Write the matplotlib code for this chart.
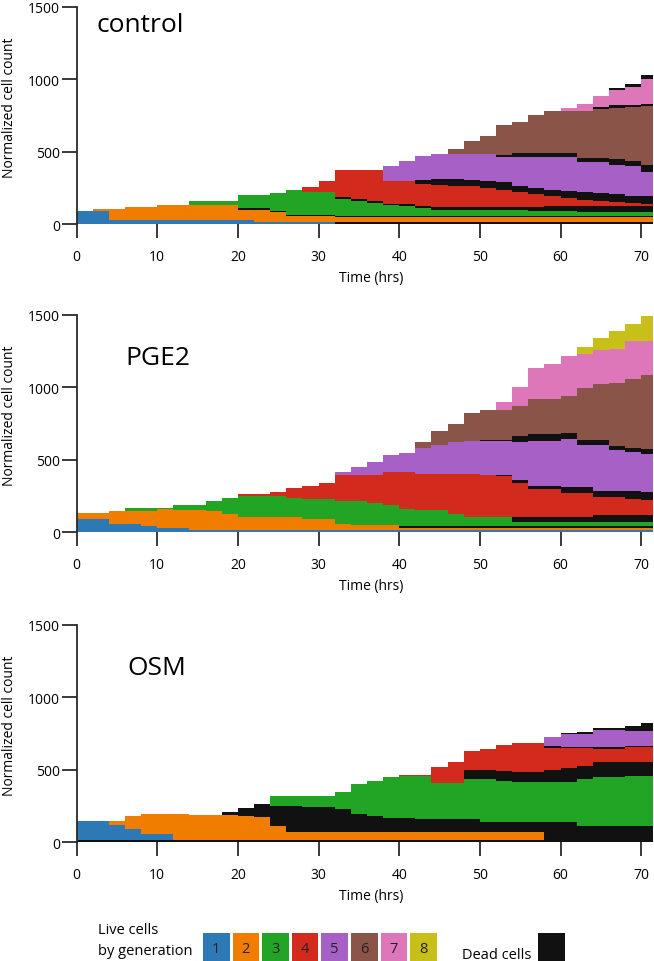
import numpy as np
import matplotlib.pyplot as plt
import matplotlib.patches as patches

plt.rcParams['font.family'] = ['Open Sans', 'DejaVu Sans']

# start of each 2 h time step, last step runs to t_end
hours = [0, 2, 4, 6, 8, 10, 12, 14, 16, 18, 20, 22, 24, 26, 28, 30, 32, 34,
         36, 38, 40, 42, 44, 46, 48, 50, 52, 54, 56, 58, 60, 62, 64, 66, 68, 70]
t_end = 71.5

gen_labels = ['1', '2', '3', '4', '5', '6', '7', '8']
gen_colors = ['#2c79b5', '#f07c00', '#22a525', '#d22b1e',
              '#a660c6', '#8b5449', '#dd77b9', '#c8c018']
dead_color = '#111111'

# ---- control: live and dead cells per generation (rows = gen 1..8)
ctrl_live = [
    [87, 87, 28, 28, 28, 28, 28, 28, 28, 28, 28, 15, 15, 15, 15, 15, 0, 0,
     0, 0, 0, 0, 0, 0, 0, 0, 0, 0, 0, 0, 0, 0, 0, 0, 0, 0],
    [0, 16, 75, 92, 92, 105, 105, 105, 105, 105, 72, 85, 65, 37, 37, 37, 31, 31,
     31, 31, 31, 31, 31, 31, 31, 31, 31, 31, 31, 31, 31, 31, 31, 31, 31, 31],
    [0, 0, 0, 0, 0, 0, 0, 26, 26, 26, 89, 89, 122, 175, 158, 158, 121, 106,
     91, 76, 71, 54, 46, 46, 46, 46, 46, 43, 38, 34, 34, 31, 28, 27, 26, 26],
    [0, 0, 0, 0, 0, 0, 0, 0, 0, 0, 0, 0, 0, 0, 37, 76, 184, 200,
     213, 160, 165, 154, 148, 146, 147, 135, 120, 105, 89, 70, 54, 39, 34, 27, 23, 18],
    [0, 0, 0, 0, 0, 0, 0, 0, 0, 0, 0, 0, 0, 0, 0, 0, 0, 0,
     0, 102, 137, 162, 170, 175, 177, 183, 178, 198, 216, 224, 232, 207, 210, 205, 205, 170],
    [0, 0, 0, 0, 0, 0, 0, 0, 0, 0, 0, 0, 0, 0, 0, 0, 0, 0,
     0, 0, 0, 0, 0, 37, 87, 122, 205, 218, 260, 288, 288, 327, 335, 355, 368, 402],
    [0, 0, 0, 0, 0, 0, 0, 0, 0, 0, 0, 0, 0, 0, 0, 0, 0, 0,
     0, 0, 0, 0, 0, 0, 0, 0, 0, 0, 0, 0, 22, 43, 80, 107, 123, 170],
    [0, 0, 0, 0, 0, 0, 0, 0, 0, 0, 0, 0, 0, 0, 0, 0, 0, 0,
     0, 0, 0, 0, 0, 0, 0, 0, 0, 0, 0, 0, 0, 0, 0, 0, 0, 0],
]
ctrl_dead = [
    [0, 0, 0, 0, 0, 0, 0, 0, 0, 0, 0, 0, 0, 0, 0, 0, 17, 17,
     17, 17, 17, 17, 17, 17, 17, 17, 17, 17, 17, 17, 17, 17, 17, 17, 17, 17],
    [0, 0, 0, 0, 0, 0, 0, 0, 0, 0, 13, 13, 12, 8, 8, 8, 6, 6,
     6, 6, 6, 6, 6, 6, 6, 6, 6, 6, 6, 6, 6, 6, 6, 6, 6, 6],
    [0, 0, 0, 0, 0, 0, 0, 0, 0, 0, 0, 0, 0, 0, 0, 0, 11, 10,
     12, 10, 10, 14, 18, 18, 15, 15, 15, 18, 26, 37, 38, 41, 42, 42, 42, 42],
    [0, 0, 0, 0, 0, 0, 0, 0, 0, 0, 0, 0, 0, 0, 0, 0, 0, 0,
     0, 0, 0, 29, 44, 44, 44, 50, 52, 44, 39, 43, 48, 53, 57, 55, 50, 50],
    [0, 0, 0, 0, 0, 0, 0, 0, 0, 0, 0, 0, 0, 0, 0, 0, 0, 0,
     0, 0, 0, 0, 0, 0, 0, 0, 10, 25, 28, 30, 30, 30, 30, 35, 37, 50],
    [0, 0, 0, 0, 0, 0, 0, 0, 0, 0, 0, 0, 0, 0, 0, 0, 0, 0,
     0, 0, 0, 0, 0, 0, 0, 0, 0, 0, 0, 0, 0, 0, 15, 18, 17, 18],
    [0, 0, 0, 0, 0, 0, 0, 0, 0, 0, 0, 0, 0, 0, 0, 0, 0, 0,
     0, 0, 0, 0, 0, 0, 0, 0, 0, 0, 0, 0, 0, 0, 0, 10, 20, 30],
    [0, 0, 0, 0, 0, 0, 0, 0, 0, 0, 0, 0, 0, 0, 0, 0, 0, 0,
     0, 0, 0, 0, 0, 0, 0, 0, 0, 0, 0, 0, 0, 0, 0, 0, 0, 0],
]

# ---- PGE2
pge_live = [
    [92, 92, 57, 57, 46, 30, 30, 16, 16, 16, 16, 16, 16, 16, 16, 16, 16, 16,
     16, 16, 16, 16, 16, 16, 16, 16, 16, 16, 16, 16, 16, 16, 16, 16, 16, 16],
    [39, 39, 92, 92, 103, 128, 126, 140, 129, 110, 87, 87, 87, 87, 76, 76, 41, 36,
     36, 36, 14, 14, 14, 14, 14, 14, 14, 14, 14, 14, 14, 14, 14, 14, 14, 14],
    [0, 0, 0, 19, 19, 10, 35, 35, 69, 108, 145, 145, 145, 131, 138, 138, 161, 166,
     150, 137, 119, 114, 114, 84, 58, 58, 58, 29, 29, 29, 29, 29, 29, 29, 29, 29],
    [0, 0, 0, 0, 0, 0, 0, 0, 0, 0, 16, 16, 32, 69, 87, 110, 177, 177,
     193, 225, 253, 246, 246, 276, 299, 295, 283, 237, 197, 197, 167, 167, 125, 125, 110, 100],
    [0, 0, 0, 0, 0, 0, 0, 0, 0, 0, 0, 0, 0, 0, 0, 0, 19, 53,
     88, 119, 133, 183, 203, 219, 230, 230, 230, 261, 310, 310, 335, 290, 313, 278, 272, 260],
    [0, 0, 0, 0, 0, 0, 0, 0, 0, 0, 0, 0, 0, 0, 0, 0, 0, 0,
     0, 0, 0, 40, 96, 129, 191, 206, 206, 212, 242, 240, 258, 353, 383, 432, 475, 512],
    [0, 0, 0, 0, 0, 0, 0, 0, 0, 0, 0, 0, 0, 0, 0, 0, 0, 0,
     0, 0, 0, 0, 0, 0, 0, 0, 54, 126, 215, 240, 271, 237, 237, 235, 262, 237],
    [0, 0, 0, 0, 0, 0, 0, 0, 0, 0, 0, 0, 0, 0, 0, 0, 0, 0,
     0, 0, 0, 0, 0, 0, 0, 0, 0, 0, 0, 0, 0, 46, 80, 125, 118, 172],
]
pge_dead = [
    [0, 0, 0, 0, 0, 0, 0, 0, 0, 0, 0, 0, 0, 0, 0, 0, 0, 0,
     0, 0, 0, 0, 0, 0, 0, 0, 0, 0, 0, 0, 0, 0, 0, 0, 0, 0],
    [0, 0, 0, 0, 0, 0, 0, 0, 0, 0, 0, 0, 0, 0, 0, 0, 0, 0,
     0, 0, 12, 12, 12, 12, 15, 15, 15, 15, 15, 15, 15, 15, 15, 15, 15, 15],
    [0, 0, 0, 0, 0, 0, 0, 0, 0, 0, 0, 0, 0, 0, 0, 0, 0, 0,
     0, 0, 0, 0, 0, 0, 0, 0, 0, 29, 29, 29, 29, 29, 46, 46, 46, 46],
    [0, 0, 0, 0, 0, 0, 0, 0, 0, 0, 0, 0, 0, 0, 0, 0, 0, 0,
     0, 0, 0, 0, 0, 0, 0, 0, 12, 20, 22, 22, 40, 40, 42, 42, 53, 60],
    [0, 0, 0, 0, 0, 0, 0, 0, 0, 0, 0, 0, 0, 0, 0, 0, 0, 0,
     0, 0, 0, 0, 0, 0, 0, 12, 12, 41, 46, 48, 40, 40, 40, 33, 30, 33],
    [0, 0, 0, 0, 0, 0, 0, 0, 0, 0, 0, 0, 0, 0, 0, 0, 0, 0,
     0, 0, 0, 0, 0, 0, 0, 0, 0, 0, 0, 0, 0, 0, 0, 0, 0, 0],
    [0, 0, 0, 0, 0, 0, 0, 0, 0, 0, 0, 0, 0, 0, 0, 0, 0, 0,
     0, 0, 0, 0, 0, 0, 0, 0, 0, 0, 0, 0, 0, 0, 0, 0, 0, 0],
    [0, 0, 0, 0, 0, 0, 0, 0, 0, 0, 0, 0, 0, 0, 0, 0, 0, 0,
     0, 0, 0, 0, 0, 0, 0, 0, 0, 0, 0, 0, 0, 0, 0, 0, 0, 0],
]

# ---- OSM
osm_live = [
    [131, 131, 102, 74, 39, 39, 0, 0, 0, 0, 0, 0, 0, 0, 0, 0, 0, 0,
     0, 0, 0, 0, 0, 0, 0, 0, 0, 0, 0, 0, 0, 0, 0, 0, 0, 0],
    [0, 0, 25, 92, 141, 141, 180, 173, 173, 173, 166, 154, 92, 56, 56, 56, 56, 56,
     56, 56, 56, 56, 56, 56, 56, 56, 56, 56, 56, 0, 0, 0, 0, 0, 0, 0],
    [0, 0, 0, 0, 0, 0, 0, 0, 0, 0, 0, 0, 69, 72, 75, 75, 113, 204,
     247, 278, 290, 297, 252, 252, 279, 299, 287, 276, 276, 276, 276, 327, 338, 338, 345, 345],
    [0, 0, 0, 0, 0, 0, 0, 0, 0, 0, 0, 0, 0, 0, 0, 0, 0, 0,
     0, 0, 9, 9, 110, 142, 130, 144, 177, 202, 202, 150, 134, 119, 92, 92, 103, 103],
    [0, 0, 0, 0, 0, 0, 0, 0, 0, 0, 0, 0, 0, 0, 0, 0, 0, 0,
     0, 0, 0, 0, 0, 0, 0, 0, 0, 0, 0, 62, 85, 87, 120, 120, 105, 105],
    [0, 0, 0, 0, 0, 0, 0, 0, 0, 0, 0, 0, 0, 0, 0, 0, 0, 0,
     0, 0, 0, 0, 0, 0, 0, 0, 0, 0, 0, 0, 0, 0, 0, 0, 0, 0],
    [0, 0, 0, 0, 0, 0, 0, 0, 0, 0, 0, 0, 0, 0, 0, 0, 0, 0,
     0, 0, 0, 0, 0, 0, 0, 0, 0, 0, 0, 0, 0, 0, 0, 0, 0, 0],
    [0, 0, 0, 0, 0, 0, 0, 0, 0, 0, 0, 0, 0, 0, 0, 0, 0, 0,
     0, 0, 0, 0, 0, 0, 0, 0, 0, 0, 0, 0, 0, 0, 0, 0, 0, 0],
]
osm_dead = [
    [18, 18, 18, 18, 18, 18, 18, 18, 18, 18, 18, 18, 18, 18, 18, 18, 18, 18,
     18, 18, 18, 18, 18, 18, 18, 18, 18, 18, 18, 18, 18, 18, 18, 18, 18, 18],
    [0, 0, 0, 0, 0, 0, 0, 0, 0, 16, 53, 92, 138, 174, 171, 171, 158, 124,
     104, 96, 91, 84, 84, 84, 84, 64, 64, 64, 64, 120, 120, 92, 92, 92, 92, 92],
    [0, 0, 0, 0, 0, 0, 0, 0, 0, 0, 0, 0, 0, 0, 0, 0, 0, 0,
     0, 0, 0, 0, 0, 0, 63, 63, 69, 69, 69, 86, 100, 92, 104, 104, 97, 97],
    [0, 0, 0, 0, 0, 0, 0, 0, 0, 0, 0, 0, 0, 0, 0, 0, 0, 0,
     0, 0, 0, 0, 0, 0, 0, 0, 0, 0, 0, 17, 12, 12, 11, 11, 10, 10],
    [0, 0, 0, 0, 0, 0, 0, 0, 0, 0, 0, 0, 0, 0, 0, 0, 0, 0,
     0, 0, 0, 0, 0, 0, 0, 0, 0, 0, 0, 0, 10, 12, 15, 15, 35, 50],
    [0, 0, 0, 0, 0, 0, 0, 0, 0, 0, 0, 0, 0, 0, 0, 0, 0, 0,
     0, 0, 0, 0, 0, 0, 0, 0, 0, 0, 0, 0, 0, 0, 0, 0, 0, 0],
    [0, 0, 0, 0, 0, 0, 0, 0, 0, 0, 0, 0, 0, 0, 0, 0, 0, 0,
     0, 0, 0, 0, 0, 0, 0, 0, 0, 0, 0, 0, 0, 0, 0, 0, 0, 0],
    [0, 0, 0, 0, 0, 0, 0, 0, 0, 0, 0, 0, 0, 0, 0, 0, 0, 0,
     0, 0, 0, 0, 0, 0, 0, 0, 0, 0, 0, 0, 0, 0, 0, 0, 0, 0],
]

y_ticks = [0, 500, 1000, 1500]
x_ticks = [0, 10, 20, 30, 40, 50, 60, 70]
axis_color = '#2a2a2a'


def draw_panel(ax, live, dead, name, name_xy):
    x = np.array(hours + [t_end], dtype=float)
    # stacking: dead gen1 at the bottom, then live/dead pairs upward
    layers = [(dead[0], dead_color), (live[0], gen_colors[0])]
    for g in range(1, 8):
        layers.append((live[g], gen_colors[g]))
        layers.append((dead[g], dead_color))
    tops = []
    base = np.zeros(len(x))
    for vals, col in layers:
        v = np.array(vals + [vals[-1]], dtype=float)
        base = base + v
        tops.append((base.copy(), col))
    # draw from the top layer down so neighbours share no seams
    for top, col in reversed(tops):
        ax.fill_between(x, 0, top, step='post', color=col, linewidth=0)

    ax.set_xlim(0, t_end)
    ax.set_ylim(0, 1500)
    for s in ['top', 'right', 'bottom']:
        ax.spines[s].set_visible(False)
    ax.spines['left'].set_linewidth(1.3)
    ax.spines['left'].set_color(axis_color)
    ax.set_xticks(x_ticks)
    ax.set_yticks(y_ticks)
    ax.tick_params(axis='x', direction='out', length=10, width=1.3,
                   color=axis_color, pad=8, labelsize=10)
    ax.tick_params(axis='y', direction='out', length=11, width=1.3,
                   color=axis_color, pad=1, labelsize=10)
    ax.set_ylabel('Normalized cell count', fontsize=10)
    ax.yaxis.set_label_coords(-0.104, 0.54)
    ax.text(0.51, -0.245, 'Time (hrs)', transform=ax.transAxes,
            ha='center', va='center', fontsize=10)
    ax.text(name_xy[0], name_xy[1], name, transform=ax.transAxes, fontsize=19)


fig = plt.figure(figsize=(6.54, 9.62), dpi=100)

ax1 = fig.add_axes([0.117, 0.7661, 0.882, 0.2261])
draw_panel(ax1, ctrl_live, ctrl_dead, 'control', (0.034, 0.887))

ax2 = fig.add_axes([0.117, 0.4456, 0.882, 0.2261])
draw_panel(ax2, pge_live, pge_dead, 'PGE2', (0.084, 0.774))

ax3 = fig.add_axes([0.117, 0.1234, 0.882, 0.2261])
draw_panel(ax3, osm_live, osm_dead, 'OSM', (0.088, 0.774))

# legend along the bottom
W, H = 654.0, 962.0
fig.text(98 / W, 1 - 931 / H, 'Live cells', fontsize=10.5, va='center')
fig.text(98 / W, 1 - 952 / H, 'by generation', fontsize=10.5, va='center')
for i in range(8):
    x0 = 203 + i * 29.6
    fig.add_artist(patches.Rectangle((x0 / W, -0.01), 26.5 / W, (962 - 934) / H + 0.01,
                                     transform=fig.transFigure,
                                     facecolor=gen_colors[i], edgecolor='none'))
    fig.text((x0 + 13.25) / W, 1 - 950 / H, gen_labels[i], ha='center',
             va='center', fontsize=10.5, color='#222222')
fig.text(462 / W, 1 - 956 / H, 'Dead cells', fontsize=10.5, va='center')
fig.add_artist(patches.Rectangle((538 / W, -0.01), 27 / W, (962 - 934) / H + 0.01,
                                 transform=fig.transFigure,
                                 facecolor=dead_color, edgecolor='none'))

plt.savefig('out.png', dpi=100)
plt.close()
